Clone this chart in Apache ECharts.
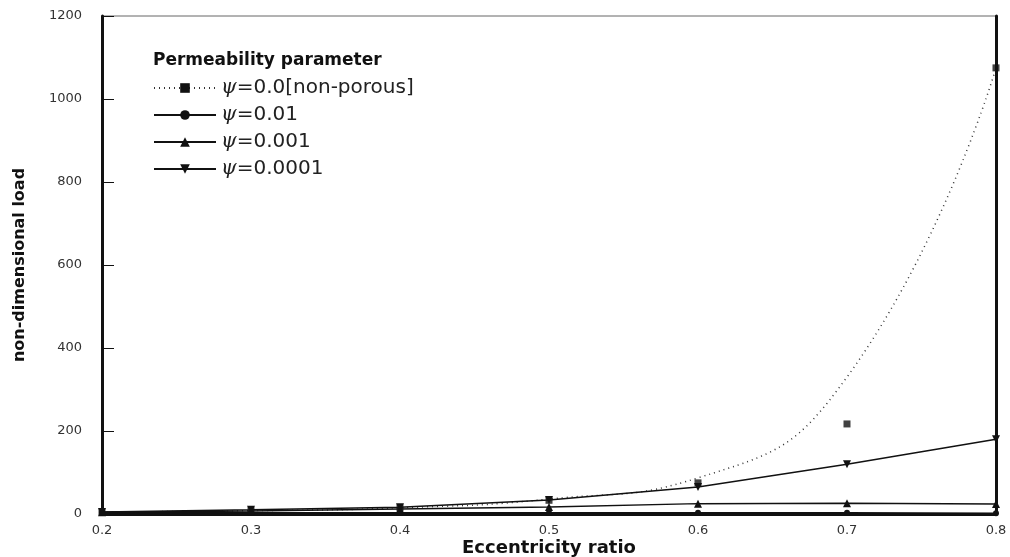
<!DOCTYPE html>
<html>
<head>
<meta charset="utf-8">
<script src="https://cdn.jsdelivr.net/npm/echarts@6/dist/echarts.min.js"></script>
<style>
  html, body { margin: 0; padding: 0; background: #fff; }
  #chart { width: 1010px; height: 557px; }
</style>
</head>
<body>
<div id="chart"></div>
<script>
// eccentricity ratio (x categories)
var eccentricity = ['0.2', '0.3', '0.4', '0.5', '0.6', '0.7', '0.8'];
// non-porous: smooth dotted curve as read off the picture, and its square markers
var nonPorousCurve = [5, 8, 15, 36, 87, 330, 1075];
var nonPorousPoints = [5, 8, 15, 33, 75, 217, 1075];
// porous bearings
var psi001 = [4, 3, 3, 3, 3, 3, 2];
var psi0001 = [4, 7, 12, 17, 25, 26, 24];
var psi00001 = [5, 10, 16, 34, 65, 120, 180];
var yTicks = [0, 200, 400, 600, 800, 1000, 1200];

var names = ['ψ=0.0[non-porous]', 'ψ=0.01', 'ψ=0.001', 'ψ=0.0001'];

var chart = echarts.init(document.getElementById('chart'));

function solid(name, data, symbol, size, rotate) {
  return {
    name: name,
    type: 'line',
    data: data,
    symbol: symbol,
    symbolSize: size,
    symbolRotate: rotate || 0,
    lineStyle: { color: '#111', width: 1.5 },
    itemStyle: { color: '#111' },
    z: 3
  };
}

var option = {
  animation: false,
  backgroundColor: '#fff',
  textStyle: { fontFamily: 'DejaVu Sans, Arial, sans-serif' },
  title: {
    text: 'Permeability parameter',
    left: 148,
    top: 47,
    textStyle: { fontSize: 17, fontWeight: 'bold', color: '#111', fontFamily: 'DejaVu Sans' }
  },
  legend: {
    data: names,
    orient: 'vertical',
    left: 148,
    top: 73,
    itemWidth: 62,
    itemHeight: 12,
    itemGap: 7,
    selectedMode: false,
    formatter: function (n) {
      return '{i|ψ}{n|' + n.slice(1) + '}';
    },
    textStyle: {
      color: '#222',
      lineHeight: 19,
      rich: {
        i: { fontStyle: 'italic', fontSize: 20, color: '#222', fontFamily: 'DejaVu Serif', lineHeight: 19 },
        n: { fontSize: 20, color: '#222', fontFamily: 'DejaVu Sans', lineHeight: 19 }
      }
    }
  },
  grid: {
    left: 102, right: 14, top: 16, bottom: 43,
    outerBoundsMode: 'none',
    show: true, borderColor: '#666', borderWidth: 1
  },
  xAxis: {
    type: 'category',
    data: eccentricity,
    boundaryGap: false,
    name: 'Eccentricity ratio',
    nameLocation: 'middle',
    nameGap: 25,
    nameMoveOverlap: false,
    nameTextStyle: { fontSize: 18, fontWeight: 'bold', color: '#111', fontFamily: 'DejaVu Sans' },
    axisLine: { lineStyle: { color: '#111', width: 3 } },
    axisTick: { show: false },
    axisLabel: { fontSize: 13, color: '#333', margin: 10 },
    splitLine: { show: false }
  },
  yAxis: [{
    type: 'value',
    min: yTicks[0],
    max: yTicks[yTicks.length - 1],
    interval: 200,
    name: 'non-dimensional load',
    nameLocation: 'middle',
    nameGap: 74,
    nameTextStyle: { fontSize: 16, fontWeight: 'bold', color: '#111', fontFamily: 'DejaVu Sans' },
    axisLine: { show: true, lineStyle: { color: '#111', width: 3 } },
    axisTick: { show: true, inside: true, length: 12, lineStyle: { color: '#111', width: 1 } },
    axisLabel: { fontSize: 13, color: '#333', margin: 20, formatter: function (v) { return String(v); } },
    splitLine: { show: false }
  }, {
    type: 'value',
    position: 'right',
    min: 0,
    max: 1200,
    axisLine: { show: true, lineStyle: { color: '#111', width: 3 } },
    axisTick: { show: false },
    axisLabel: { show: false },
    splitLine: { show: false }
  }],
  series: [
    {
      name: names[0],
      type: 'line',
      data: nonPorousCurve,
      smooth: 0.5,
      symbol: 'rect',
      symbolSize: 6,
      showSymbol: false,
      lineStyle: { color: '#333', width: 1.5, type: [1, 4] },
      itemStyle: { color: '#111' },
      z: 2
    },
    {
      name: 'markers',
      type: 'scatter',
      data: nonPorousPoints,
      symbol: 'rect',
      symbolSize: 7,
      itemStyle: { color: '#111' },
      z: 4
    },
    solid(names[1], psi001, 'circle', 6),
    solid(names[2], psi0001, 'triangle', 8),
    solid(names[3], psi00001, 'triangle', 8, 180)
  ]
};

chart.setOption(option);
</script>
</body>
</html>
